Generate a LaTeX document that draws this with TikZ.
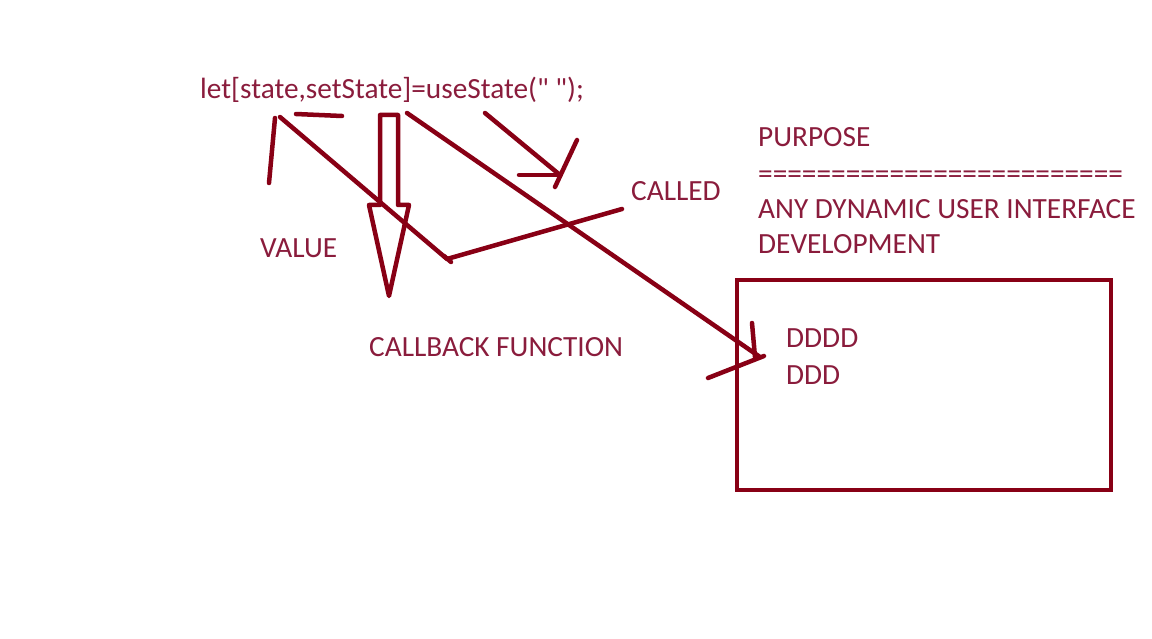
\documentclass[tikz,border=0pt]{standalone}
\usepackage{fontspec}
\setmainfont{Carlito}
\newfontfamily\codefont[Ligatures=TeXOff]{Carlito}
\usetikzlibrary{calc}
\definecolor{ink}{HTML}{880015}
\definecolor{txt}{HTML}{8A1C3C}

\begin{document}
\begin{tikzpicture}[x=1pt,y=-1pt,
		pen/.style={draw=ink,line width=4.5pt,line cap=round,line join=round},
		lbl/.style={anchor=base west,inner sep=0pt,text=txt,font=\fontsize{29.3}{36}\selectfont}]
		\useasboundingbox (0,0) rectangle (1152,639);
		% texts
		\node[lbl] (code) at (200,99) {\codefont let[state,setState]=useState(" ");};
		\node[lbl] (value) at (260,258) {VALUE};
		\node[lbl] (called) at (631,201) {CALLED};
		\node[lbl] (cb) at (369,356) {CALLBACK FUNCTION};
		\node[lbl] (purpose) at (758,147) {PURPOSE};
		\node[lbl] (rule) at (758,184) {=========================};
		\node[lbl] (any) at (758,219) {ANY DYNAMIC USER INTERFACE};
		\node[lbl] (dev) at (758,254) {DEVELOPMENT};
		\node[lbl] (d4) at (786,348) {DDDD};
		\node[lbl] (d3) at (786,384) {DDD};
		% the box
		\draw[pen,line join=miter,line cap=butt] (737,280) rectangle (1111,490);
		% strokes under the code
		\coordinate (s1) at (275,118);
		\coordinate (s2) at (269,183);
		\draw[pen] (s1) -- (s2);
		\draw[pen] (296,114) -- (342,116);
		\coordinate (st) at (280,117);
		\coordinate (kn) at (447,259);
		\coordinate (ce) at (622,209);
		\draw[pen] (st) -- (kn) -- (ce);
		\draw[pen] (444,256) -- (451,262);
		% hollow arrow
		\draw[pen] (380,115) -- (398,115) -- (398,205) -- (409,205) -- (389,296)
			-- (369,205) -- (380,205) -- cycle;
		% long arrow to the box
		\coordinate (ls) at (407,113);
		\coordinate (lt) at (760,357);
		\draw[pen] (ls) -- (lt);
		\draw[pen] (752,323) -- (755,357);
		\draw[pen] (708,378) -- (764,356);
		% short arrow
		\coordinate (rs) at (485,113);
		\coordinate (rt) at (560,175);
		\draw[pen] (rs) -- (rt);
		\draw[pen] (519,175) -- (rt);
		\draw[pen] (577,140) -- (555,187);
	\end{tikzpicture}
\end{document}
